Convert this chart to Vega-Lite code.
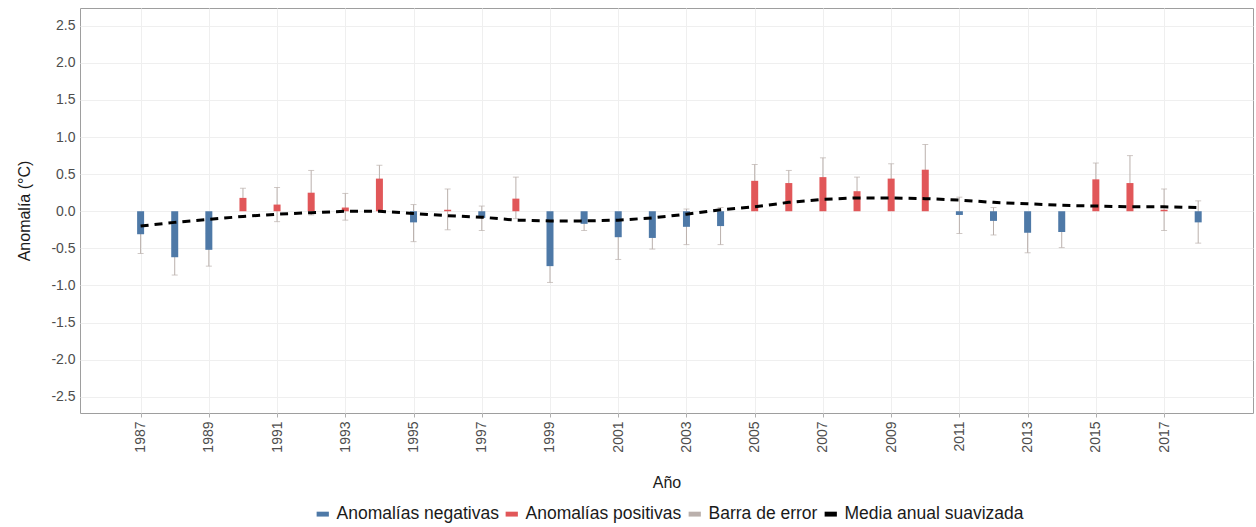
{
  "$schema": "https://vega.github.io/schema/vega-lite/v6.json",
  "width": 1173,
  "height": 405,
  "autosize": {"type": "none"},
  "padding": {"left": 80, "top": 8, "right": 3, "bottom": 114},
  "background": "white",
  "data": {"values": [
    {"year": 1987, "value": -0.31, "lo": -0.57, "hi": -0.05, "smooth": -0.20, "tipo": "Anomalías negativas"},
    {"year": 1988, "value": -0.62, "lo": -0.86, "hi": -0.38, "smooth": -0.15, "tipo": "Anomalías negativas"},
    {"year": 1989, "value": -0.52, "lo": -0.74, "hi": -0.30, "smooth": -0.11, "tipo": "Anomalías negativas"},
    {"year": 1990, "value": 0.18, "lo": 0.05, "hi": 0.31, "smooth": -0.07, "tipo": "Anomalías positivas"},
    {"year": 1991, "value": 0.09, "lo": -0.14, "hi": 0.32, "smooth": -0.04, "tipo": "Anomalías positivas"},
    {"year": 1992, "value": 0.25, "lo": -0.05, "hi": 0.55, "smooth": -0.02, "tipo": "Anomalías positivas"},
    {"year": 1993, "value": 0.05, "lo": -0.12, "hi": 0.24, "smooth": 0.00, "tipo": "Anomalías positivas"},
    {"year": 1994, "value": 0.44, "lo": 0.26, "hi": 0.62, "smooth": 0.00, "tipo": "Anomalías positivas"},
    {"year": 1995, "value": -0.15, "lo": -0.41, "hi": 0.09, "smooth": -0.03, "tipo": "Anomalías negativas"},
    {"year": 1996, "value": 0.02, "lo": -0.25, "hi": 0.30, "smooth": -0.06, "tipo": "Anomalías positivas"},
    {"year": 1997, "value": -0.09, "lo": -0.26, "hi": 0.07, "smooth": -0.08, "tipo": "Anomalías negativas"},
    {"year": 1998, "value": 0.17, "lo": -0.10, "hi": 0.46, "smooth": -0.12, "tipo": "Anomalías positivas"},
    {"year": 1999, "value": -0.74, "lo": -0.96, "hi": -0.52, "smooth": -0.13, "tipo": "Anomalías negativas"},
    {"year": 2000, "value": -0.17, "lo": -0.26, "hi": -0.08, "smooth": -0.13, "tipo": "Anomalías negativas"},
    {"year": 2001, "value": -0.35, "lo": -0.65, "hi": -0.05, "smooth": -0.12, "tipo": "Anomalías negativas"},
    {"year": 2002, "value": -0.36, "lo": -0.51, "hi": -0.21, "smooth": -0.09, "tipo": "Anomalías negativas"},
    {"year": 2003, "value": -0.21, "lo": -0.45, "hi": 0.03, "smooth": -0.04, "tipo": "Anomalías negativas"},
    {"year": 2004, "value": -0.20, "lo": -0.45, "hi": 0.05, "smooth": 0.02, "tipo": "Anomalías negativas"},
    {"year": 2005, "value": 0.41, "lo": 0.19, "hi": 0.63, "smooth": 0.06, "tipo": "Anomalías positivas"},
    {"year": 2006, "value": 0.38, "lo": 0.21, "hi": 0.55, "smooth": 0.12, "tipo": "Anomalías positivas"},
    {"year": 2007, "value": 0.46, "lo": 0.20, "hi": 0.72, "smooth": 0.16, "tipo": "Anomalías positivas"},
    {"year": 2008, "value": 0.27, "lo": 0.08, "hi": 0.46, "smooth": 0.18, "tipo": "Anomalías positivas"},
    {"year": 2009, "value": 0.44, "lo": 0.24, "hi": 0.64, "smooth": 0.18, "tipo": "Anomalías positivas"},
    {"year": 2010, "value": 0.56, "lo": 0.22, "hi": 0.90, "smooth": 0.17, "tipo": "Anomalías positivas"},
    {"year": 2011, "value": -0.05, "lo": -0.30, "hi": 0.19, "smooth": 0.15, "tipo": "Anomalías negativas"},
    {"year": 2012, "value": -0.13, "lo": -0.32, "hi": 0.05, "smooth": 0.12, "tipo": "Anomalías negativas"},
    {"year": 2013, "value": -0.29, "lo": -0.56, "hi": -0.02, "smooth": 0.10, "tipo": "Anomalías negativas"},
    {"year": 2014, "value": -0.28, "lo": -0.49, "hi": -0.07, "smooth": 0.08, "tipo": "Anomalías negativas"},
    {"year": 2015, "value": 0.43, "lo": 0.21, "hi": 0.65, "smooth": 0.07, "tipo": "Anomalías positivas"},
    {"year": 2016, "value": 0.38, "lo": 0.01, "hi": 0.75, "smooth": 0.06, "tipo": "Anomalías positivas"},
    {"year": 2017, "value": 0.02, "lo": -0.26, "hi": 0.30, "smooth": 0.06, "tipo": "Anomalías positivas"},
    {"year": 2018, "value": -0.15, "lo": -0.43, "hi": 0.14, "smooth": 0.05, "tipo": "Anomalías negativas"}
  ]},
  "config": {
    "view": {"stroke": "#9e9e9e", "strokeWidth": 1},
    "font": "Liberation Sans",
    "axis": {
      "labelFont": "Liberation Sans",
      "titleFont": "Liberation Sans",
      "labelColor": "#4d4d4d",
      "titleColor": "#1a1a1a",
      "gridColor": "#efefef",
      "gridWidth": 1,
      "domain": false,
      "labelFontSize": 14,
      "titleFontSize": 16,
      "titleFontWeight": "normal"
    },
    "legend": {
      "labelFont": "Liberation Sans",
      "labelFontSize": 17.5,
      "labelColor": "#1a1a1a",
      "labelLimit": 0,
      "symbolType": "M-1,-0.4H1V0.4H-1Z",
      "symbolSize": 150,
      "symbolStrokeWidth": 0,
      "columnPadding": 4,
      "labelOffset": 5
    }
  },
  "layer": [
    {
      "mark": {"type": "errorbar", "ticks": {"size": 6, "thickness": 1}, "thickness": 1},
      "encoding": {
        "x": {"field": "year", "type": "quantitative", "scale": {"domain": [1985.37, 2019.46], "nice": false, "zero": false},
              "axis": {"values": [1987, 1989, 1991, 1993, 1995, 1997, 1999, 2001, 2003, 2005, 2007, 2009, 2011, 2013, 2015, 2017],
                       "format": "d", "labelAngle": -90, "title": "Año", "tickSize": 4, "tickColor": "#b0b0b0", "labelPadding": 4, "titlePadding": 22}},
        "y": {"field": "lo", "type": "quantitative", "title": "Anomalía  (°C)"},
        "y2": {"field": "hi"},
        "color": {"datum": "Barra de error"}
      }
    },
    {
      "mark": {"type": "bar", "size": 7},
      "encoding": {
        "x": {"field": "year", "type": "quantitative"},
        "y": {"field": "value", "type": "quantitative", "title": "Anomalía  (°C)",
              "scale": {"domain": [-2.72, 2.74], "nice": false},
              "axis": {"values": [-2.5, -2, -1.5, -1, -0.5, 0, 0.5, 1, 1.5, 2, 2.5],
                       "labelExpr": "replace(format(datum.value, '.1f'), '−', '-')",
                       "tickSize": 0, "labelPadding": 5, "titlePadding": 18}},
        "y2": {"datum": 0},
        "color": {"field": "tipo", "type": "nominal",
                  "scale": {"domain": ["Anomalías negativas", "Anomalías positivas", "Barra de error", "Media anual suavizada"],
                            "range": ["#4E79A7", "#E15759", "#BAB0AC", "#000000"]},
                  "legend": {"title": null, "orient": "none", "direction": "horizontal", "legendX": 234, "legendY": 497,
                             "encode": {"symbols": {"update": {"fill": {"scale": "color", "field": "value"}, "stroke": {"value": "transparent"}, "opacity": {"value": 1}}}}}}
      }
    },
    {
      "mark": {"type": "line", "strokeDash": [8, 6], "strokeWidth": 3},
      "encoding": {
        "x": {"field": "year", "type": "quantitative"},
        "y": {"field": "smooth", "type": "quantitative", "title": "Anomalía  (°C)"},
        "color": {"datum": "Media anual suavizada"}
      }
    }
  ]
}
